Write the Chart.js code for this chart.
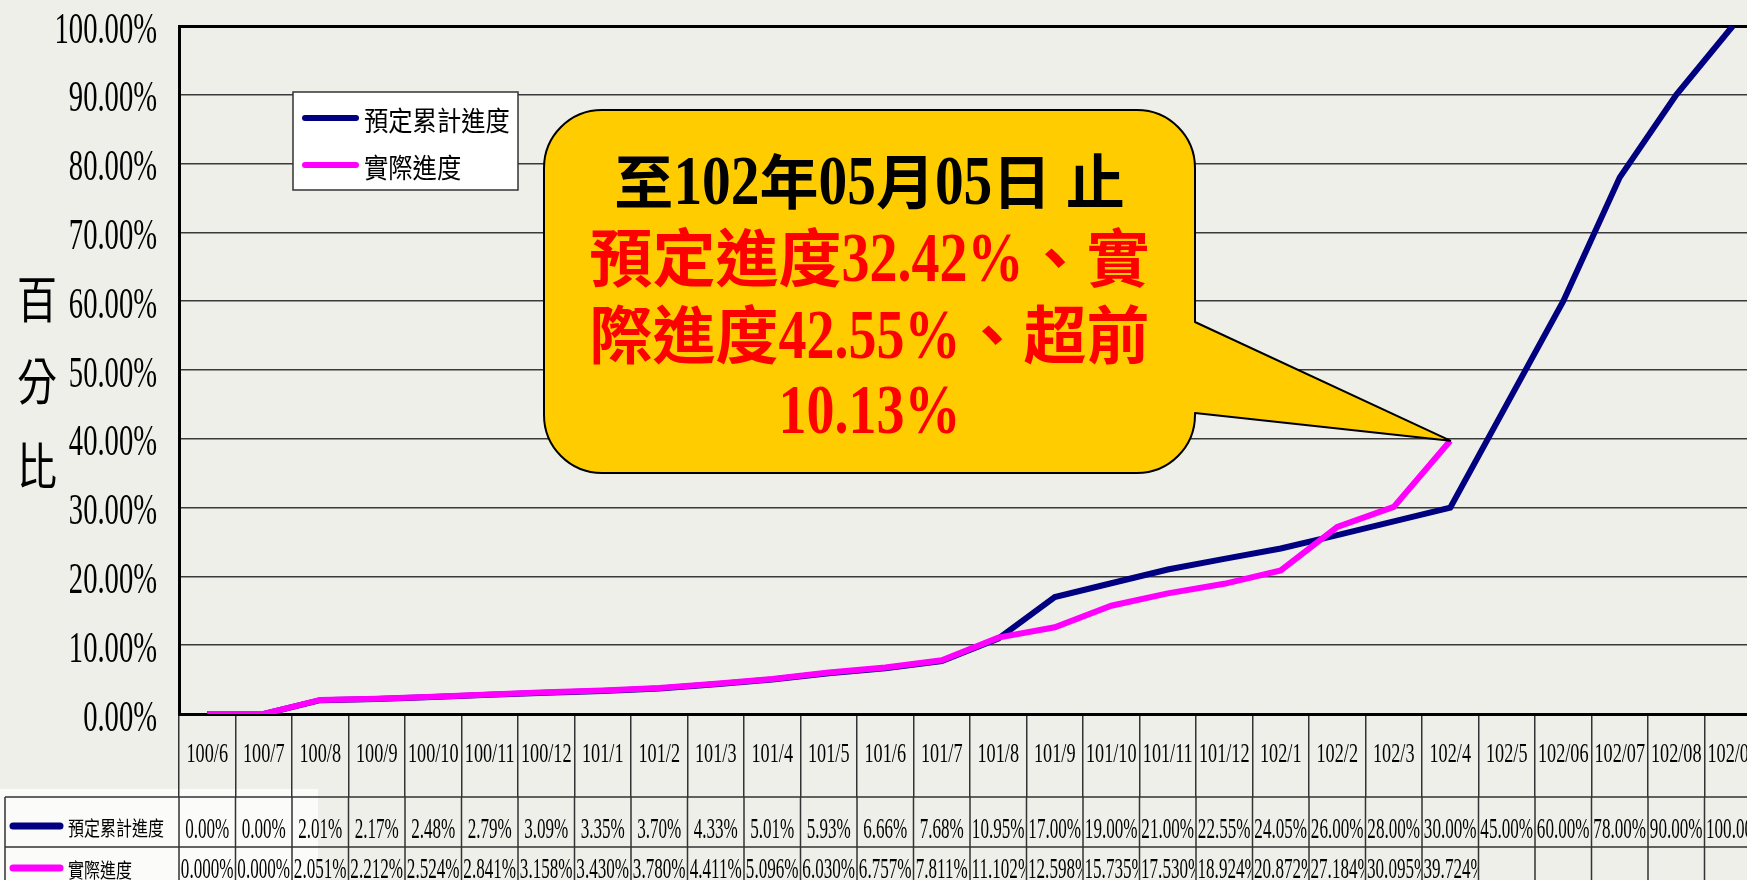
<!DOCTYPE html>
<html>
<head>
<meta charset="utf-8">
<script src="https://cdn.jsdelivr.net/npm/chart.js@4.4.1/dist/chart.umd.min.js"></script>
<style>
  html, body { margin: 0; padding: 0; overflow: hidden; background: #efefe9; }
  #wrap { width: 1747px; height: 880px; overflow: hidden; position: relative; }
  canvas { display: block; }
</style>
</head>
<body>
<div id="wrap"><canvas id="progressChart" width="1762" height="880"></canvas></div>
<script>
'use strict';

// months (ROC calendar)
const months = ['100/6', '100/7', '100/8', '100/9', '100/10', '100/11', '100/12',
  '101/1', '101/2', '101/3', '101/4', '101/5', '101/6', '101/7', '101/8', '101/9', '101/10', '101/11', '101/12',
  '102/1', '102/2', '102/3', '102/4', '102/5', '102/06', '102/07', '102/08', '102/09'];

const plannedValues = [0.00, 0.00, 2.01, 2.17, 2.48, 2.79, 3.09, 3.35, 3.70, 4.33, 5.01, 5.93, 6.66, 7.68,
  10.95, 17.00, 19.00, 21.00, 22.55, 24.05, 26.00, 28.00, 30.00, 45.00, 60.00, 78.00, 90.00, 100.00];

const actualValues = [0.000, 0.000, 2.051, 2.212, 2.524, 2.841, 3.158, 3.430, 3.780, 4.411, 5.096, 6.030, 6.757, 7.811,
  11.102, 12.598, 15.735, 17.530, 18.924, 20.872, 27.184, 30.095, 39.724, null, null, null, null, null];

const seriesNames = ['預定累計進度', '實際進度'];
const yTickLabels = ['0.00%', '10.00%', '20.00%', '30.00%', '40.00%', '50.00%', '60.00%', '70.00%', '80.00%', '90.00%', '100.00%'];
const yTitleChars = ['百', '分', '比'];
const calloutText = ['至102年05月05日 止', '預定進度32.42%、實', '際進度42.55%、超前', '10.13%'];

const LATIN = '"Liberation Serif", "DejaVu Serif", serif';
const CJK = '"Noto Sans CJK TC", "Noto Sans CJK SC", sans-serif';
const NAVY = '#000080';
const MAGENTA = '#ff00ff';

let plannedCells = plannedValues.map(function(v) { return v.toFixed(2) + '%'; });
let actualCells = actualValues.map(function(v) { return v === null ? '' : v.toFixed(3) + '%'; });

// text squeezed horizontally, like the narrow digits of the original
function fillNarrow(ctx, text, x, y, font, sx, align, baseline) {
  ctx.save();
  ctx.translate(x, y);
  ctx.scale(sx, 1);
  ctx.font = font;
  ctx.textAlign = align;
  ctx.textBaseline = baseline || 'middle';
  ctx.fillText(text, 0, 0);
  ctx.restore();
}

// draw a string mixing CJK and latin runs, centred on cx
function drawMixed(ctx, text, cx, baseY, cjkFont, latinFont, latinScale, color) {
  let re = /[\u3000-\u303f\u4e00-\u9fff\uff00-\uffef]+|[^\u3000-\u303f\u4e00-\u9fff\uff00-\uffef]+/g;
  let runs = text.match(re);
  let parts = runs.map(function(run) {
    let isCjk = /[\u3000-\u303f\u4e00-\u9fff\uff00-\uffef]/.test(run);
    ctx.font = isCjk ? cjkFont : latinFont;
    let sx = isCjk ? 1 : latinScale;
    return { text: run, font: ctx.font, sx: sx, width: ctx.measureText(run).width * sx };
  });
  let total = parts.reduce(function(s, p) { return s + p.width; }, 0);
  let x = cx - total / 2;
  ctx.fillStyle = color;
  for(let i = 0; i < parts.length; i++) {
    fillNarrow(ctx, parts[i].text, x, baseY, parts[i].font, parts[i].sx, 'left', 'alphabetic');
    x += parts[i].width;
  }
}

function calloutPath(ctx, l, t, r, b, rad, tipX, tipY, p1, p2) {
  ctx.beginPath();
  ctx.moveTo(l + rad, t);
  ctx.lineTo(r - rad, t);
  ctx.arcTo(r, t, r, t + rad, rad);
  ctx.lineTo(r, p1);
  ctx.lineTo(tipX, tipY);
  ctx.lineTo(r, p2);
  ctx.lineTo(r, b - rad);
  ctx.arcTo(r, b, r - rad, b, rad);
  ctx.lineTo(l + rad, b);
  ctx.arcTo(l, b, l, b - rad, rad);
  ctx.lineTo(l, t + rad);
  ctx.arcTo(l, t, l + rad, t, rad);
  ctx.closePath();
}

// pale box behind the row keys of the data table
const tableBackPlugin = {
  id: 'tableBack',
  beforeDraw: function(chart) {
    let ctx = chart.ctx;
    ctx.save();
    ctx.fillStyle = 'rgba(255,255,255,0.75)';
    ctx.fillRect(0, 789, 318, 91);
    ctx.restore();
  }
};

// tick labels of both axes, drawn from the scales' own ticks
const axisLabelPlugin = {
  id: 'axisLabels',
  afterDraw: function(chart) {
    let ctx = chart.ctx;
    let x = chart.scales.x;
    let y = chart.scales.y;
    ctx.save();
    ctx.fillStyle = '#000';
    y.ticks.forEach(function(tick) {
      let py = y.getPixelForValue(tick.value);
      fillNarrow(ctx, yTickLabels[Math.round(tick.value / 10)], 157, py + 5, '44px ' + LATIN, 0.65, 'right');
    });
    x.ticks.forEach(function(tick, i) {
      let px = x.getPixelForTick(i);
      fillNarrow(ctx, months[tick.value], px, chart.chartArea.bottom + 41, '28px ' + LATIN, 0.65, 'center');
    });
    ctx.restore();
  }
};

// data table rows under the x axis
const tablePlugin = {
  id: 'dataTable',
  afterDraw: function(chart) {
    let ctx = chart.ctx;
    let x = chart.scales.x;
    let step = x.getPixelForValue(1) - x.getPixelForValue(0);
    let rowTop = chart.chartArea.bottom + 83;
    let rowMid = rowTop + 50;
    let bottom = chart.height;
    let rightEdge = x.getPixelForValue(months.length - 1) + step / 2;

    ctx.save();
    ctx.strokeStyle = '#333333';
    ctx.lineWidth = 1.5;
    ctx.beginPath();
    ctx.moveTo(5, rowTop); ctx.lineTo(rightEdge, rowTop);
    ctx.moveTo(5, rowMid); ctx.lineTo(rightEdge, rowMid);
    ctx.moveTo(5, rowTop); ctx.lineTo(5, bottom);
    for(let i = 0; i <= months.length; i++) {
      let edge = x.getPixelForValue(0) - step / 2 + i * step;
      ctx.moveTo(edge, rowTop);
      ctx.lineTo(edge, bottom);
    }
    ctx.stroke();

    // row keys
    let keys = [{ color: NAVY, y: rowTop + 29 }, { color: MAGENTA, y: rowMid + 21 }];
    ctx.lineCap = 'round';
    ctx.lineWidth = 7;
    for(let k = 0; k < keys.length; k++) {
      ctx.strokeStyle = keys[k].color;
      ctx.beginPath();
      ctx.moveTo(13, keys[k].y);
      ctx.lineTo(60, keys[k].y);
      ctx.stroke();
      ctx.fillStyle = '#000';
      fillNarrow(ctx, seriesNames[k], 68, keys[k].y + 2, '20px ' + CJK, 0.8, 'left');
    }

    // cell values
    let font = '29px ' + LATIN;
    let sx = 0.59;
    ctx.fillStyle = '#000';
    let rows = [{ cells: plannedCells, y: rowTop + 33 }, { cells: actualCells, y: rowMid + 23 }];
    for(let r = 0; r < rows.length; r++) {
      for(let i = 0; i < months.length; i++) {
        let text = rows[r].cells[i];
        if(!text) continue;
        let cx = x.getPixelForValue(i);
        let left = cx - step / 2;
        ctx.font = font;
        let w = ctx.measureText(text).width * sx;
        ctx.save();
        ctx.beginPath();
        ctx.rect(left + 1, rows[r].y - 22, step - 2, 44);
        ctx.clip();
        if(w > step - 3) {
          fillNarrow(ctx, text, left + 1.5, rows[r].y, font, sx, 'left');
        } else {
          fillNarrow(ctx, text, cx, rows[r].y, font, sx, 'center');
        }
        ctx.restore();
      }
    }
    ctx.restore();
  }
};

// vertical y axis title, legend box and the yellow callout
const decorPlugin = {
  id: 'decor',
  afterDraw: function(chart) {
    let ctx = chart.ctx;
    ctx.save();

    // y title, one character per line
    ctx.fillStyle = '#000';
    let titleY = [299, 381, 466];
    for(let i = 0; i < yTitleChars.length; i++) {
      fillNarrow(ctx, yTitleChars[i], 37, titleY[i], '50px ' + CJK, 0.8, 'center');
    }

    // legend
    ctx.fillStyle = '#ffffff';
    ctx.fillRect(293, 92, 225, 98);
    ctx.strokeStyle = '#333';
    ctx.lineWidth = 1.5;
    ctx.strokeRect(293, 92, 225, 98);
    let legendColors = [NAVY, MAGENTA];
    let legendY = [118, 165];
    ctx.lineCap = 'round';
    for(let i = 0; i < seriesNames.length; i++) {
      ctx.strokeStyle = legendColors[i];
      ctx.lineWidth = 6;
      ctx.beginPath();
      ctx.moveTo(305, legendY[i]);
      ctx.lineTo(356, legendY[i]);
      ctx.stroke();
      ctx.fillStyle = '#000';
      fillNarrow(ctx, seriesNames[i], 364, legendY[i] + 3, '27px ' + CJK, 0.9, 'left');
    }

    // callout pointing at the last actual value
    let meta = chart.getDatasetMeta(1);
    let last = 0;
    for(let i = 0; i < actualValues.length; i++) {
      if(actualValues[i] !== null) last = i;
    }
    let tip = meta.data[last];
    calloutPath(ctx, 544, 110, 1195, 473, 58, tip.x, tip.y, 322, 413);
    ctx.fillStyle = '#ffcc00';
    ctx.fill();
    ctx.strokeStyle = '#000';
    ctx.lineWidth = 2;
    ctx.lineJoin = 'round';
    ctx.stroke();

    let cx = (544 + 1195) / 2;
    drawMixed(ctx, calloutText[0], cx, 204, 'bold 59px ' + CJK, 'bold 70px ' + LATIN, 0.82, '#000000');
    drawMixed(ctx, calloutText[1], cx, 281, 'bold 63px ' + CJK, 'bold 70px ' + LATIN, 0.8, '#ff0000');
    drawMixed(ctx, calloutText[2], cx, 358, 'bold 63px ' + CJK, 'bold 70px ' + LATIN, 0.8, '#ff0000');
    drawMixed(ctx, calloutText[3], cx, 433, 'bold 63px ' + CJK, 'bold 70px ' + LATIN, 0.8, '#ff0000');

    ctx.restore();
  }
};

let $chart = document.getElementById('progressChart');

let myChart = new Chart($chart, {
  type: 'line',
  data: {
    labels: months,
    datasets: [
      {
        label: seriesNames[0],
        data: plannedValues,
        borderColor: NAVY,
        backgroundColor: NAVY,
        borderWidth: 6,
        pointRadius: 0,
        tension: 0,
        fill: false,
        order: 1
      },
      {
        label: seriesNames[1],
        data: actualValues,
        borderColor: MAGENTA,
        backgroundColor: MAGENTA,
        borderWidth: 6,
        pointRadius: 0,
        tension: 0,
        fill: false,
        order: 0
      }
    ]
  },
  options: {
    responsive: false,
    animation: false,
    layout: { padding: { left: 0, top: 26, right: 1, bottom: 0 } },
    plugins: {
      legend: { display: false },
      tooltip: { enabled: false },
      title: { display: false }
    },
    scales: {
      x: {
        offset: true,
        grid: {
          offset: true,
          drawOnChartArea: false,
          drawTicks: true,
          tickLength: 83,
          color: '#333333',
          lineWidth: 1.5
        },
        border: { display: true, color: '#000000', width: 3 },
        ticks: { display: false, autoSkip: false, maxRotation: 0 },
        afterFit: function(scale) { scale.height = 166; }
      },
      y: {
        min: 0,
        max: 100,
        ticks: { display: false, stepSize: 10 },
        grid: {
          drawTicks: false,
          color: function(c) { return c.tick && c.tick.value === 100 ? '#000000' : '#3a3a3a'; },
          lineWidth: function(c) { return c.tick && c.tick.value === 100 ? 3 : 1.5; }
        },
        border: { display: true, color: '#000000', width: 3 },
        afterFit: function(scale) { scale.width = 179; }
      }
    }
  },
  plugins: [tableBackPlugin, axisLabelPlugin, tablePlugin, decorPlugin]
});
</script>
</body>
</html>
